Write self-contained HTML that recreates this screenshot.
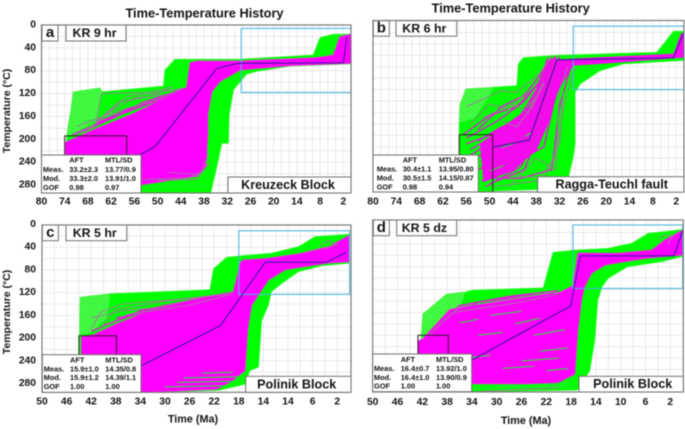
<!DOCTYPE html>
<html lang="en">
<head>
<meta charset="utf-8">
<title>Time-Temperature History</title>
<style>
html,body{margin:0;padding:0;background:#fff;}
#chart{display:block;width:685px;height:429px;filter:blur(0.45px);font-family:"Liberation Sans",Arial,sans-serif;font-weight:bold;}
</style>
</head>
<body>
<svg id="chart" xmlns="http://www.w3.org/2000/svg" width="685" height="429" viewBox="0 0 685 429"></svg>
<script>
/* ---------- Tick labels ---------- */
const oldAgeTicks = [80,74,68,62,56,50,44,38,32,26,20,14,8,2];
const youngAgeTicks = [50,46,42,38,34,30,26,22,18,14,10,6,2];
const panelCTickLabels = [50,46,42,38,34,30,26,22,18,14,14,6,2];
const tempTicks = [0,40,80,120,160,200,240,280];

/* ---------- Panel a: [age Ma, temperature C] ---------- */
const aFaint = [[73.8,230],[73.3,184],[72.4,149],[71.8,117],[64.9,110],[64,120],[65,170],[70,184],[73.5,200]];
const aGreen = [[73.5,294],[73.5,195],[70,184],[65.6,166],[64.5,117],[48.5,107],[48.1,79],[45.5,60],[28.7,60],[9.8,52.5],[8,22],[4.6,16.3],[0,16],[0,68],[15.8,72],[24.4,81],[27,86],[30.4,113],[31.5,157],[31.7,207],[33.4,207],[35,257],[36.3,294]];
const aMagenta = [[73.8,285],[73.8,205],[65.7,181],[56.3,155],[42.5,109],[41.6,66],[39.9,63],[28.7,63],[11.5,58],[8.9,57],[4.6,52.5],[2.9,20.5],[0,16],[0,67],[15.8,71],[28.7,79],[33.9,99],[36,117],[37,157],[37,190],[37.5,248],[39.9,265],[54.5,280],[73.8,285]];
const aBestFit = [[54.5,227],[50.7,213],[34.7,76],[29.1,67],[2,66],[1.1,20]];
const aBlueBox = [28.4,0,6,118];
const aBlackBox = [74,58,194,245];
const aGreyPaths = [
  [[70,190],[66,172],[64.5,120],[52,118],[46,108]],
  [[72,195],[67,178],[58,125],[50,118],[43,110]],
  [[68,185],[62,150],[56,128],[48,122]],
  [[71,178],[64,160],[60,150],[50,130],[44,112]],
  [[66,170],[60,135],[52,125],[47,112]],
  [[54,270],[42,268],[38,255]],
  [[50,272],[40,270],[36.5,240]],
  [[47,258],[39,262],[36.8,225]]
];
const aPinkPaths = [
  [[72,192],[64,168],[54,142],[44,112]],
  [[69,186],[60,158],[50,132],[43,111]],
  [[66,172],[58,148],[48,125]],
  [[62,165],[54,136],[46,118]]
];
const aStreaks = [[[46,272],[38.5,270]],[[52,283],[37,282]],[[69,170],[58,150]]];

/* ---------- Panel b ---------- */
const bFaint = [[57.8,178],[57.6,145],[56.1,119],[49,116],[50,130],[54,170]];
const bGreen = [[57.8,300],[57.8,178],[54,170],[50,130],[49,116],[43,113],[42.6,75],[41.3,64],[32.7,60],[7,55],[4.9,37],[2.7,18],[0,18],[0,69],[15.6,75],[21.6,87],[26.7,110],[28,124.5],[28,215],[28.5,238],[29.7,273],[33.6,294],[49,297],[52,300]];
const bMagentaCore = [[52.5,215],[45.6,180],[39.6,151],[36.6,110],[35.3,68],[2.7,57],[0.8,22],[0,20],[0,64],[21.6,75],[28.5,78],[32.3,122],[34.9,180],[37.9,226],[43.9,261.5],[51.6,282]];
const bBestFit = [[49.2,221],[39.8,208],[32.7,68],[2.7,64.5],[0.2,22]];
const bBlueBox = [28.5,0,9,120];
const bBlackBox = [57.8,49.2,199,299.5];
const bMagentaPaths = [
  [[56,205],[48,175],[41,140],[36,95],[33,66]],
  [[55,225],[46,190],[40,150],[36,100],[34,64]],
  [[54,240],[45,215],[39,160],[36,90],[33,62]],
  [[53,260],[44,230],[38,170],[35,100],[32,62]],
  [[52,280],[43,240],[37,180],[35,110],[33,64]],
  [[51,290],[42,255],[37,190],[34,105],[32,66]],
  [[50,285],[41,260],[36,170],[33,90],[31,68]],
  [[49,270],[40,220],[36,150],[34,80],[32,66]],
  [[48,250],[41,200],[38,130],[35,75]],
  [[57,200],[50,165],[43,150],[37,105],[34,68]],
  [[56,215],[50,200],[42,165],[37,110],[34,64]],
  [[55,235],[48,205],[42,180],[38,120],[35,64]],
  [[53,210],[47,185],[40,170],[36,110],[33,68]],
  [[52,230],[46,215],[38,200],[35,120],[32,70]],
  [[51,250],[44,250],[36,220],[33,130],[30,72]],
  [[50,275],[42,275],[34,260],[32,150],[29,78]],
  [[53,190],[47,150],[41,130],[36,85],[33,62]]
];
const bGreyPaths = [
  [[56,150],[47,122],[43,125],[37,90],[34,62]],
  [[52,170],[44,145],[40,160],[36,110]],
  [[47,175],[43,185],[39,150],[36,105]],
  [[45,290],[38,240],[33,260],[32,120],[30,80]],
  [[49,290],[38,280],[33,240],[31,150],[28,80]],
  [[44,270],[36,275],[32,215],[31,120]],
  [[55,180],[50,145],[45,155],[40,120]]
];
const bStreaks = [[[50,262],[45,250]],[[42,205],[39,195]],[[47,222],[43,212]]];

/* ---------- Panel c ---------- */
const cFaint = [[43.9,196],[43.8,128],[38.9,122],[39.5,165],[42,190]];
const cGreen = [[43.9,296],[43.9,196],[42,190],[39.5,165],[38.9,122],[22.7,115],[22.1,78],[20,58],[16.5,54],[12.7,50.7],[8.3,39],[5.6,21.5],[0,17],[0,68],[4.5,72.5],[8.3,83],[11,103.5],[12.7,118],[13.2,142],[14.3,169],[14.8,251],[16.2,257],[17,281],[21.3,292],[34,296]];
const cMagenta = [[43.6,296],[43.6,198],[41.4,193],[37.9,175],[31.9,149],[24.3,128],[18.9,119],[17.7,66],[17.3,62.5],[13.2,59.5],[7.8,50.7],[3.4,39],[0.2,20],[0,20],[0,65.5],[3.4,68],[7.2,74],[10.5,80],[13.2,98],[14.6,121],[15.9,142],[16.5,181],[17,257],[19,275],[21.6,290],[34,296]];
const cBestFit = [[33.8,248.5],[21,178],[13.7,66.6],[3.7,66.6],[0.5,49]];
const cBlueBox = [18,0,11,123];
const cBlackBox = [44,37.9,196,245];
const cGreyPaths = [
  [[42,185],[40.5,155],[37,140],[28,132],[20,122]],
  [[41,190],[38,150],[30,135],[22,125]],
  [[40,180],[36,158],[26,142],[19,122]],
  [[42,165],[37,152],[31,146],[24,128]],
  [[5,40],[3.5,28],[2,35],[4,42]]
];
const cPinkPaths = [
  [[42,188],[36,162],[28,140],[20,122]],
  [[40,178],[34,152],[26,134],[20,121]],
  [[38,165],[30,142],[22,125]]
];
const cStreaks = [[[27,270],[18,268]],[[28,278],[18.5,276]],[[30,286],[20,284]],[[24,262],[19,260]]];

/* ---------- Panel d ---------- */
const dFaint = [[42.4,233],[41.9,163],[38.1,128],[35,124],[36,150],[39,175],[41.5,205]];
const dGreen = [[42.4,301],[42.4,233],[41.5,205],[39,175],[36,150],[35,124],[33.8,121],[22.5,117],[20.9,55],[17.4,51],[12,48],[8.2,39],[5.6,21.7],[0,15],[0,62],[3.4,71],[8.9,80],[12,100],[13,115],[13.7,138],[14.2,209],[15,262],[17,296],[33.8,299]];
const dMagenta = [[42.7,288],[42.7,210],[41.9,206],[37.6,155],[28.4,137],[19.8,125],[17.7,113],[16.9,56],[10.4,56.6],[5,51],[2.9,33],[0,16],[0,59.5],[5.6,65],[9.3,71],[12.5,77],[14.7,91.5],[15.8,115],[16.3,138],[16.9,192],[17.4,268],[20.4,285],[33.8,285]];
const dBestFit = [[34.1,244],[18.1,149],[16.5,61],[1.4,61],[0,17]];
const dBlueBox = [17.7,0,7,118];
const dBlackBox = [42.7,37.8,200,245];
const dGreyPaths = [
  [[40,190],[36,150],[30,142],[21,125]],
  [[41,200],[37,160],[26,142],[20,128]],
  [[36,300],[28,296],[20,292]],
  [[4,32],[3,25],[1.5,25],[2.5,40]]
];
const dPinkPaths = [
  [[41,195],[36,148],[28,132],[20,122]],
  [[39,172],[33,142],[24,128]]
];
const dStreaks = [
  [[33,290],[18,283]],[[34,294],[18,290]],[[30,292],[19,287]],
  [[24,200],[19,190]],[[23,228],[18.5,222]],[[26,245],[20,240]],[[31,165],[26,158]],
  [[27,180],[23,170]],[[33,200],[29,195]],[[29,258],[24,254]],[[22,262],[18.5,258]],
  [[35,240],[31,235]],[[36,178],[33,172]]
];

/* ---------- Printed text ---------- */
const aTable = [["Meas.","33.2±2.3","13.77/0.9"],["Mod.","33.3±2.0","13.91/1.0"],["GOF","0.98","0.97"]];
const bTable = [["Meas.","30.4±1.1","13.95/0.80"],["Mod.","30.5±1.5","14.15/0.87"],["GOF","0.98","0.94"]];
const cTable = [["Meas.","15.9±1.0","14.35/0.8"],["Mod.","15.9±1.2","14.39/1.1"],["GOF","1.00","1.00"]];
const dTable = [["Meas.","16.4±0.7","13.92/1.0"],["Mod.","16.4±1.0","13.90/0.9"],["GOF","1.00","1.00"]];

const panels = [
 {id:'a',left:41.5,right:351,top:25,bottom:193,ageMax:80,pxPerMa:3.87,zeroY:25,pxPerDeg:0.5714,
  faint:aFaint,green:aGreen,magenta:aMagenta,core:null,best:aBestFit,blue:aBlueBox,black:aBlackBox,grey:aGreyPaths,pink:aPinkPaths,streaks:aStreaks,
  ages:oldAgeTicks,ageLabels:oldAgeTicks,tickY:202,temps:true,
  letterBox:[42,25,16,16],kr:'KR 9 hr',krBox:[66,25,60,16],krX:72.5,
  region:'Kreuzeck Block',regionBox:[228,177,123,16],regionX:288,
  table:aTable,tableBox:[41.5,155,99.5,38],colX:[43,69.3,105],rowY:[160,169.5,178.5,187.5]},
 {id:'b',left:373,right:684,top:20.5,bottom:192,ageMax:80,pxPerMa:3.887,zeroY:21,pxPerDeg:0.5717,
  faint:bFaint,green:bGreen,magenta:null,core:bMagentaCore,best:bBestFit,blue:bBlueBox,black:bBlackBox,grey:bGreyPaths,pink:bMagentaPaths,streaks:bStreaks,
  ages:oldAgeTicks,ageLabels:oldAgeTicks,tickY:202,temps:false,
  letterBox:[373.3,20.7,16,15.5],kr:'KR 6 hr',krBox:[396,20.7,60.7,15.5],krX:402.3,
  region:'Ragga-Teuchl fault',regionBox:[537.7,176.7,146.3,15.5],regionX:611.7,
  table:bTable,tableBox:[373,155,105.3,37],colX:[376.7,402.7,438.7],rowY:[160,169,178,187]},
 {id:'c',left:42,right:351,top:225,bottom:392.3,ageMax:50,pxPerMa:6.15,zeroY:224.5,pxPerDeg:0.568,
  faint:cFaint,green:cGreen,magenta:cMagenta,core:null,best:cBestFit,blue:cBlueBox,black:cBlackBox,grey:cGreyPaths,pink:cPinkPaths,streaks:cStreaks,
  ages:youngAgeTicks,ageLabels:panelCTickLabels,tickY:402,temps:true,
  letterBox:[42.3,225,16,15.7],kr:'KR 5 hr',krBox:[66,225,60.7,15.7],krX:72.7,
  region:'Polinik Block',regionBox:[245.7,376.3,105.3,16],regionX:296.7,
  table:cTable,tableBox:[42.3,354.7,98.7,37.6],colX:[43.7,70,105.3],rowY:[360,369,377.7,386.7]},
 {id:'d',left:372.7,right:683.3,top:220,bottom:392,ageMax:50,pxPerMa:6.2,zeroY:221,pxPerDeg:0.5714,
  faint:dFaint,green:dGreen,magenta:dMagenta,core:null,best:dBestFit,blue:dBlueBox,black:dBlackBox,grey:dGreyPaths,pink:dPinkPaths,streaks:dStreaks,
  ages:youngAgeTicks,ageLabels:youngAgeTicks,tickY:402.3,temps:false,
  letterBox:[373.3,220,16,15.7],kr:'KR 5 dz',krBox:[396.7,220,60,15.7],krX:401.7,
  region:'Polinik Block',regionBox:[579,376.3,104.3,15.7],regionX:632.7,
  table:dTable,tableBox:[372.7,354,99,37.7],colX:[374,400.7,436],rowY:[359.7,368.3,377.3,386]}
];

const NS = 'http://www.w3.org/2000/svg';
const root = document.getElementById('chart');
function mk(tag, parent){
  const el = document.createElementNS(NS, tag);
  
  parent.appendChild(el);
  return el;
}
function setAll(el, props){
  for (const k in props) el.setAttribute(k, props[k]);
  return el;
}
function label(parent, name, txt, x, y, size, anchor, fill){
  const t = mk('text', parent);
  
  setAll(t, {x:x, y:y, 'font-size':size, 'text-anchor':anchor||'start', 'dominant-baseline':'central', fill:fill||'#141414'});
  t.textContent = txt;
  return t;
}
function boxRect(parent, name, b){
  const r = mk('rect', parent);
  
  setAll(r, {x:b[0], y:b[1], width:b[2], height:b[3], fill:'#fff', stroke:'#707070', 'stroke-width':1});
  return r;
}

panels.forEach(function(p){
  const xs = function(t){ return p.left + (p.ageMax - t) * p.pxPerMa; };
  const ys = function(T){ return p.zeroY + T * p.pxPerDeg; };
  const pts = function(arr){ return arr.map(function(d){ return xs(d[0]).toFixed(1) + ',' + ys(d[1]).toFixed(1); }).join(' '); };

  const g = mk('g', root);
  

  const clip = mk('clipPath', g);
  clip.setAttribute('id', 'clip-' + p.id);
  
  setAll(mk('rect', clip), {x:p.left, y:p.top, width:p.right - p.left, height:p.bottom - p.top});

  /* grid */
  const grid = mk('g', g);
  
  setAll(grid, {stroke:'#c4c4c4', 'stroke-width':0.8, 'stroke-dasharray':'1 1.4'});
  for (let t = p.ageMax - 2; t > 0; t -= 2) {
    const l = mk('line', grid);
    
    setAll(l, {x1:xs(t), x2:xs(t), y1:p.top, y2:p.bottom});
  }
  for (let T = 20; ys(T) < p.bottom; T += 20) {
    const l = mk('line', grid);
    
    setAll(l, {x1:p.left, x2:p.right, y1:ys(T), y2:ys(T)});
  }

  const data = mk('g', g);
  
  data.setAttribute('clip-path', 'url(#clip-' + p.id + ')');

  const faint = mk('polygon', data);
  
  setAll(faint, {points:pts(p.faint), fill:'#18f818', 'fill-opacity':0.82, stroke:'#40f040', 'stroke-width':0.7});

  const green = mk('polygon', data);
  
  setAll(green, {points:pts(p.green), fill:'#00ff00', stroke:'#30f830', 'stroke-width':0.8});

  if (p.magenta) {
    const m = mk('polygon', data);
    
    setAll(m, {points:pts(p.magenta), fill:'#ff00ff', stroke:'#f030e0', 'stroke-width':0.8});
  }
  if (p.core) {
    const m = mk('polygon', data);
    
    setAll(m, {points:pts(p.core), fill:'#f608f0'});
  }
  p.streaks.forEach(function(s){
    const l = mk('polyline', data);
    
    setAll(l, {points:pts(s), fill:'none', stroke:'#20ee30', 'stroke-width':1});
  });
  p.pink.forEach(function(s){
    const l = mk('polyline', data);
    
    setAll(l, {points:pts(s), fill:'none', stroke:'#ee10e4', 'stroke-width':1.3});
  });
  p.grey.forEach(function(s){
    const l = mk('polyline', data);
    
    setAll(l, {points:pts(s), fill:'none', stroke:'#a07a9c', 'stroke-width':0.9});
  });

  const blue = mk('rect', data);
  
  setAll(blue, {x:xs(p.blue[0]), y:ys(p.blue[2]), width:xs(p.blue[1]) - xs(p.blue[0]), height:ys(p.blue[3]) - ys(p.blue[2]), fill:'none', stroke:'#4fb6e0', 'stroke-width':1.1});

  const black = mk('rect', data);
  
  setAll(black, {x:xs(p.black[0]), y:ys(p.black[2]), width:xs(p.black[1]) - xs(p.black[0]), height:ys(p.black[3]) - ys(p.black[2]), fill:'none', stroke:'#2a1a24', 'stroke-width':1});

  const best = mk('polyline', data);
  
  setAll(best, {points:pts(p.best), fill:'none', stroke:'#2a1a9a', 'stroke-width':1});

  const frame = mk('rect', g);
  
  setAll(frame, {x:p.left, y:p.top, width:p.right - p.left, height:p.bottom - p.top, fill:'none', stroke:'#6e6e6e', 'stroke-width':1.1});

  /* axis labels */
  p.ages.forEach(function(t, i){
    label(g, 'x-tick-label', String(p.ageLabels[i]), xs(t), p.tickY, 10.3, 'middle');
  });
  if (p.temps) {
    tempTicks.forEach(function(T){
      label(g, 'y-tick-label', String(T), 36, ys(T), 10.3, 'end');
    });
  }

  /* tag boxes */
  boxRect(g, 'panel-letter-box', p.letterBox);
  label(g, 'panel-letter', p.id, p.letterBox[0] + p.letterBox[2] / 2, p.letterBox[1] + p.letterBox[3] / 2 - 0.5, 15, 'middle');
  boxRect(g, 'sample-name-box', p.krBox);
  label(g, 'sample-name', p.kr, p.krX, p.krBox[1] + p.krBox[3] / 2, 12.4);
  boxRect(g, 'region-name-box', p.regionBox);
  label(g, 'region-name', p.region, p.regionX, p.regionBox[1] + p.regionBox[3] / 2, 12.6, 'middle');

  /* statistics table */
  boxRect(g, 'statistics-table-box', p.tableBox);
  label(g, 'table-header-aft', 'AFT', p.colX[1], p.rowY[0], 7.4);
  label(g, 'table-header-mtl', 'MTL/SD', p.colX[2], p.rowY[0], 7.4);
  p.table.forEach(function(row, i){
    row.forEach(function(cell, j){
      label(g, 'table-cell', cell, p.colX[j], p.rowY[i + 1], 7.4);
    });
  });
});

label(root, 'chart-title-left', 'Time-Temperature History', 204.5, 13, 12.8, 'middle');
label(root, 'chart-title-right', 'Time-Temperature History', 510.7, 8, 12.8, 'middle');
label(root, 'x-axis-title-left', 'Time (Ma)', 193, 419.7, 10.8, 'middle');
label(root, 'x-axis-title-right', 'Time (Ma)', 526, 421, 10.8, 'middle');
const yt1 = label(root, 'y-axis-title-top', 'Temperature (°C)', 0, 0, 10.5, 'middle');
yt1.setAttribute('transform', 'translate(7,111) rotate(-90)');
const yt2 = label(root, 'y-axis-title-bottom', 'Temperature (°C)', 0, 0, 10.5, 'middle');
yt2.setAttribute('transform', 'translate(7,312) rotate(-90)');
</script>
</body>
</html>
